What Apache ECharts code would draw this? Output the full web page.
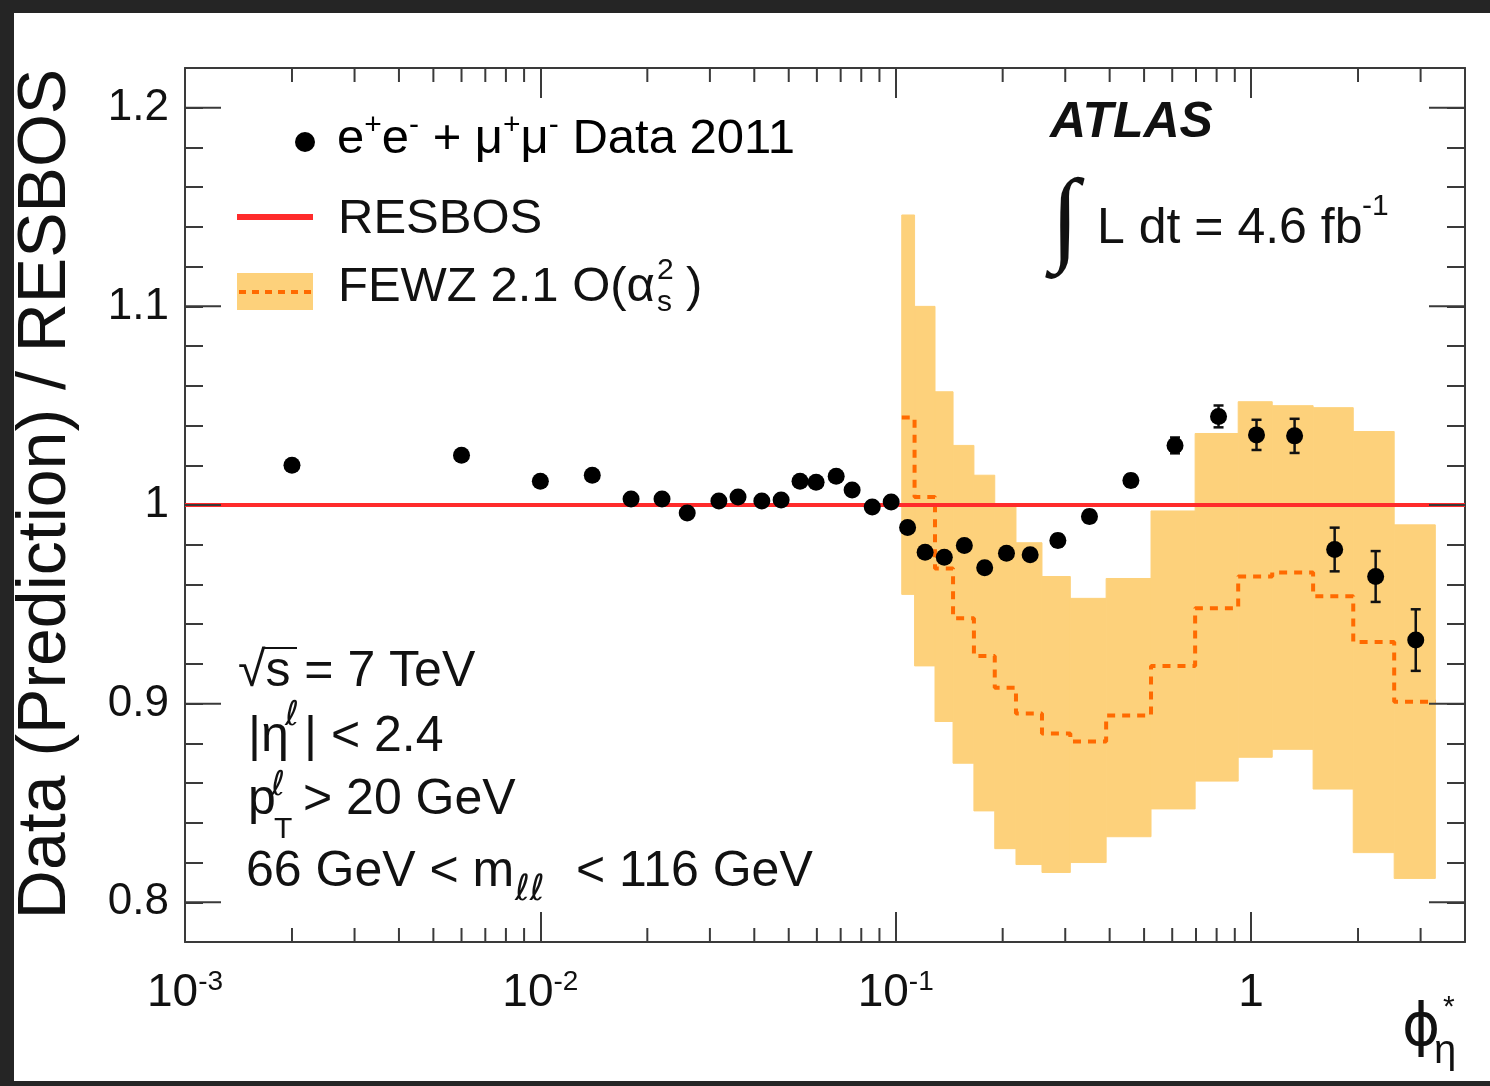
<!DOCTYPE html>
<html>
<head>
<meta charset="utf-8">
<title>Data / RESBOS vs phi*_eta</title>
<script src="https://cdn.jsdelivr.net/npm/echarts@6/dist/echarts.min.js"></script>
<style>
  html, body { margin: 0; padding: 0; background: #fff; }
  #chart { width: 1490px; height: 1086px; }
</style>
</head>
<body>
<div id="chart"></div>
<script>
// measured points: phi*_eta and data / RESBOS
const phiStar = [0.002, 0.006, 0.010, 0.014, 0.018, 0.022, 0.0259, 0.0318, 0.036, 0.042, 0.0476, 0.0538,
  0.0597, 0.068, 0.0754, 0.0859, 0.0971, 0.108, 0.121, 0.137, 0.156, 0.178, 0.205, 0.239, 0.286, 0.351,
  0.459, 0.611, 0.810, 1.036, 1.326, 1.719, 2.242, 2.907]
const ratio = [1.020, 1.025, 1.012, 1.015, 1.003, 1.003, 0.996, 1.002, 1.004, 1.002, 1.0025, 1.012,
  1.0115, 1.0145, 1.0075, 0.999, 1.0015, 0.9887, 0.9762, 0.9737, 0.9796, 0.9684, 0.9757, 0.9749, 0.9821, 0.9942,
  1.0123, 1.030, 1.0446, 1.0353, 1.0348, 0.9776, 0.964, 0.932]
const ratioErr = [0.002, 0.002, 0.002, 0.002, 0.002, 0.002, 0.002, 0.002, 0.002, 0.002, 0.002, 0.002,
  0.002, 0.002, 0.002, 0.002, 0.002, 0.002, 0.002, 0.002, 0.002, 0.002, 0.002, 0.002, 0.003, 0.003,
  0.003, 0.004, 0.0055, 0.0076, 0.0086, 0.011, 0.0128, 0.0155]

// FEWZ 2.1 O(as^2) prediction: bin edges, band limits and central value per bin
const fewzEdges = [0.104, 0.113, 0.129, 0.145, 0.166, 0.190, 0.218, 0.258, 0.310, 0.391, 0.523, 0.696,
  0.920, 1.147, 1.495, 1.939, 2.528, 3.30]
const fewzUp = [1.146, 1.100, 1.057, 1.030, 1.015, 0.999, 0.981, 0.964, 0.953, 0.963, 0.997, 1.036,
  1.052, 1.050, 1.049, 1.037, 0.990]
const fewzLow = [0.955, 0.919, 0.891, 0.870, 0.846, 0.827, 0.819, 0.815, 0.820, 0.833, 0.847, 0.861,
  0.873, 0.877, 0.857, 0.825, 0.812]
const fewzMid = [1.044, 1.004, 0.968, 0.943, 0.924, 0.908, 0.895, 0.885, 0.881, 0.894, 0.919, 0.948,
  0.964, 0.966, 0.954, 0.931, 0.901]

// RESBOS reference (ratio 1)
const resbos = [[0.001, 1], [4, 1]]

// extra ticks (ROOT style)
const xMinorTicks = [0.002, 0.003, 0.004, 0.005, 0.006, 0.007, 0.008, 0.009,
  0.02, 0.03, 0.04, 0.05, 0.06, 0.07, 0.08, 0.09,
  0.2, 0.3, 0.4, 0.5, 0.6, 0.7, 0.8, 0.9, 2, 3]
const yMajorTicks = [0.8, 0.9, 1.0, 1.1, 1.2]

const FONT = "'Liberation Sans', Arial, Helvetica, sans-serif"
const SYM = "'DejaVu Sans', 'Liberation Sans', sans-serif"
const AXIS = '#3a3a3a'
const BAND = '#fdd17b'
const FEWZ = '#ff6a00'
const RED = '#ff2b2b'
const INK = '#111'
const FRAME = '#252525'

function txt(x, y, text, size, opts) {
  opts = opts || {}
  return {
    type: 'text',
    x: x,
    y: y,
    rotation: opts.rotation || 0,
    silent: true,
    style: {
      text: text,
      font: (opts.weight || '') + ' ' + size + 'px ' + (opts.family || FONT),
      fill: INK,
      align: opts.align || 'left',
      verticalAlign: 'middle'
    }
  }
}

function renderBand(params, api) {
  const p0 = api.coord([api.value(0), api.value(3)])
  const p1 = api.coord([api.value(1), api.value(2)])
  return {
    type: 'rect',
    shape: { x: p0[0], y: p0[1], width: p1[0] - p0[0], height: p1[1] - p0[1] },
    style: { fill: BAND, stroke: BAND, lineWidth: 1 }
  }
}

function renderErrorBar(params, api) {
  const top = api.coord([api.value(0), api.value(2)])
  const bot = api.coord([api.value(0), api.value(1)])
  const style = { stroke: INK, lineWidth: 2.5 }
  return {
    type: 'group',
    children: [
      { type: 'line', shape: { x1: top[0], y1: top[1], x2: bot[0], y2: bot[1] }, style: style },
      { type: 'line', shape: { x1: top[0] - 5, y1: top[1], x2: top[0] + 5, y2: top[1] }, style: style },
      { type: 'line', shape: { x1: bot[0] - 5, y1: bot[1], x2: bot[0] + 5, y2: bot[1] }, style: style }
    ]
  }
}

function renderXTick(params, api) {
  const x = api.coord([api.value(0), 1])[0]
  const cs = params.coordSys
  const style = { stroke: AXIS, lineWidth: 2 }
  return {
    type: 'group',
    children: [
      { type: 'line', shape: { x1: x, y1: cs.y + cs.height, x2: x, y2: cs.y + cs.height - 14 }, style: style },
      { type: 'line', shape: { x1: x, y1: cs.y, x2: x, y2: cs.y + 14 }, style: style }
    ]
  }
}

function renderYTick(params, api) {
  const y = api.coord([1, api.value(1)])[1]
  const cs = params.coordSys
  const style = { stroke: AXIS, lineWidth: 2 }
  return {
    type: 'group',
    children: [
      { type: 'line', shape: { x1: cs.x, y1: y, x2: cs.x + 36, y2: y }, style: style },
      { type: 'line', shape: { x1: cs.x + cs.width, y1: y, x2: cs.x + cs.width - 36, y2: y }, style: style }
    ]
  }
}

const chart = echarts.init(document.getElementById('chart'))

const logAxis = {
  type: 'log',
  logBase: 10,
  min: 0.001,
  max: 4,
  axisLine: { show: true, onZero: false, lineStyle: { color: AXIS, width: 2 } },
  axisTick: { show: true, inside: true, length: 30, lineStyle: { color: AXIS, width: 2 } },
  minorTick: { show: false },
  splitLine: { show: false }
}

const valAxis = {
  type: 'value',
  min: 0.78,
  max: 1.22,
  interval: 0.02,
  axisLine: { show: true, onZero: false, lineStyle: { color: AXIS, width: 2 } },
  axisTick: { show: true, inside: true, length: 18, lineStyle: { color: AXIS, width: 2 } },
  splitLine: { show: false }
}

chart.setOption({
  animation: false,
  backgroundColor: '#fff',
  textStyle: { fontFamily: FONT },
  grid: { left: 185, right: 25, top: 68, bottom: 144 },
  xAxis: [
    Object.assign({}, logAxis, {
      position: 'bottom',
      axisLabel: {
        margin: 26,
        showMaxLabel: false,
        formatter: function(v) {
          const e = Math.round(Math.log10(v))
          return e === 0 ? '{b|1}' : '{b|10}{s|' + e + '}'
        },
        rich: {
          b: { fontSize: 46, fontFamily: FONT, color: INK, lineHeight: 50 },
          s: { fontSize: 28, fontFamily: FONT, color: INK, lineHeight: 22, verticalAlign: 'top' }
        }
      }
    }),
    Object.assign({}, logAxis, { position: 'top', axisLabel: { show: false } })
  ],
  yAxis: [
    Object.assign({}, valAxis, {
      position: 'left',
      axisLabel: {
        margin: 16,
        fontSize: 44,
        fontFamily: FONT,
        color: INK,
        formatter: function(v) {
          const t = v * 10
          if (Math.abs(t - Math.round(t)) > 1e-6) return ''
          return String(Math.round(t) / 10)
        }
      }
    }),
    Object.assign({}, valAxis, { position: 'right', axisLabel: { show: false } })
  ],
  series: [
    {
      name: 'FEWZ band',
      type: 'custom',
      z: 1,
      silent: true,
      renderItem: renderBand,
      encode: { x: [0, 1], y: [2, 3] },
      data: fewzUp.map((u, i) => [fewzEdges[i], fewzEdges[i + 1], fewzLow[i], u])
    },
    {
      name: 'FEWZ',
      type: 'line',
      z: 2,
      step: 'end',
      symbol: 'none',
      silent: true,
      lineStyle: { color: FEWZ, width: 4, type: [8, 7] },
      data: fewzEdges.map((e, i) => [e, fewzMid[Math.min(i, fewzMid.length - 1)]])
    },
    {
      name: 'RESBOS',
      type: 'line',
      z: 3,
      symbol: 'none',
      silent: true,
      lineStyle: { color: RED, width: 4 },
      data: resbos
    },
    {
      name: 'errors',
      type: 'custom',
      z: 4,
      silent: true,
      renderItem: renderErrorBar,
      encode: { x: 0, y: [1, 2] },
      data: phiStar.map((x, i) => [x, ratio[i] - ratioErr[i], ratio[i] + ratioErr[i]])
    },
    {
      name: 'Data 2011',
      type: 'scatter',
      z: 5,
      symbol: 'circle',
      symbolSize: 17,
      itemStyle: { color: '#000', opacity: 1 },
      data: phiStar.map((x, i) => [x, ratio[i]])
    },
    {
      type: 'custom',
      z: 6,
      silent: true,
      renderItem: renderXTick,
      data: xMinorTicks.map(v => [v, 1])
    },
    {
      type: 'custom',
      z: 6,
      silent: true,
      renderItem: renderYTick,
      data: yMajorTicks.map(v => [1, v])
    }
  ],
  graphic: [
    // dark photo frame
    { type: 'rect', silent: true, shape: { x: 0, y: 0, width: 1490, height: 13 }, style: { fill: FRAME } },
    { type: 'rect', silent: true, shape: { x: 0, y: 0, width: 14, height: 1086 }, style: { fill: FRAME } },
    { type: 'rect', silent: true, shape: { x: 0, y: 1081, width: 1490, height: 5 }, style: { fill: FRAME } },

    // y axis title
    txt(46, 494, 'Data (Prediction) / RESBOS', 68, { rotation: Math.PI / 2, align: 'center' }),
    // x axis title
    txt(1402, 1030, 'ϕ', 58, { family: SYM }),
    txt(1443, 1008, '*', 30),
    txt(1434, 1052, 'η', 40),

    // legend
    { type: 'circle', silent: true, shape: { cx: 305, cy: 142, r: 10 }, style: { fill: '#000' } },
    {
      type: 'text', x: 337, y: 139, silent: true,
      style: {
        text: '{n|e}{p|+}{n|e}{p|-}{n| + μ}{p|+}{n|μ}{p|-}{n| Data 2011}',
        verticalAlign: 'middle',
        rich: {
          n: { fontSize: 49, fontFamily: FONT, color: INK, lineHeight: 56 },
          p: { fontSize: 30, fontFamily: FONT, color: INK, lineHeight: 40, verticalAlign: 'top' }
        }
      }
    },
    { type: 'line', silent: true, shape: { x1: 237, y1: 217, x2: 313, y2: 217 }, style: { stroke: RED, lineWidth: 6 } },
    txt(338, 219, 'RESBOS', 49),
    { type: 'rect', silent: true, shape: { x: 237, y: 273, width: 76, height: 37 }, style: { fill: BAND } },
    { type: 'line', silent: true, shape: { x1: 239, y1: 292, x2: 313, y2: 292 }, style: { stroke: FEWZ, lineWidth: 4, lineDash: [7, 6] } },
    txt(338, 287, 'FEWZ 2.1 O(α', 49),
    txt(657, 271, '2', 30),
    txt(657, 303, 's', 30),
    txt(686, 287, ')', 49),

    // experiment label
    txt(1050, 123, 'ATLAS', 50, { weight: 'italic bold' }),
    txt(1065, 224, '∫', 104, { family: "'Liberation Serif', 'DejaVu Serif', serif", align: 'center' }),
    txt(1097, 229, 'L dt = 4.6 fb', 50),
    txt(1362, 207, '-1', 30),

    // selection cuts
    txt(238, 672, '√s = 7 TeV', 50),
    { type: 'line', silent: true, shape: { x1: 262, y1: 648, x2: 297, y2: 648 }, style: { stroke: INK, lineWidth: 2 } },
    txt(248, 737, '|η', 50),
    txt(285, 716, 'ℓ', 34, { family: SYM }),
    txt(304, 737, '| < 2.4', 50),
    txt(248, 800, 'p', 50),
    txt(271, 786, 'ℓ', 34, { family: SYM }),
    txt(274, 830, 'T', 30),
    txt(303, 800, '> 20 GeV', 50),
    txt(246, 872, '66 GeV < m', 50),
    txt(515, 891, 'ℓℓ', 36, { family: SYM }),
    txt(576, 872, '< 116 GeV', 50)
  ]
})
</script>
</body>
</html>
